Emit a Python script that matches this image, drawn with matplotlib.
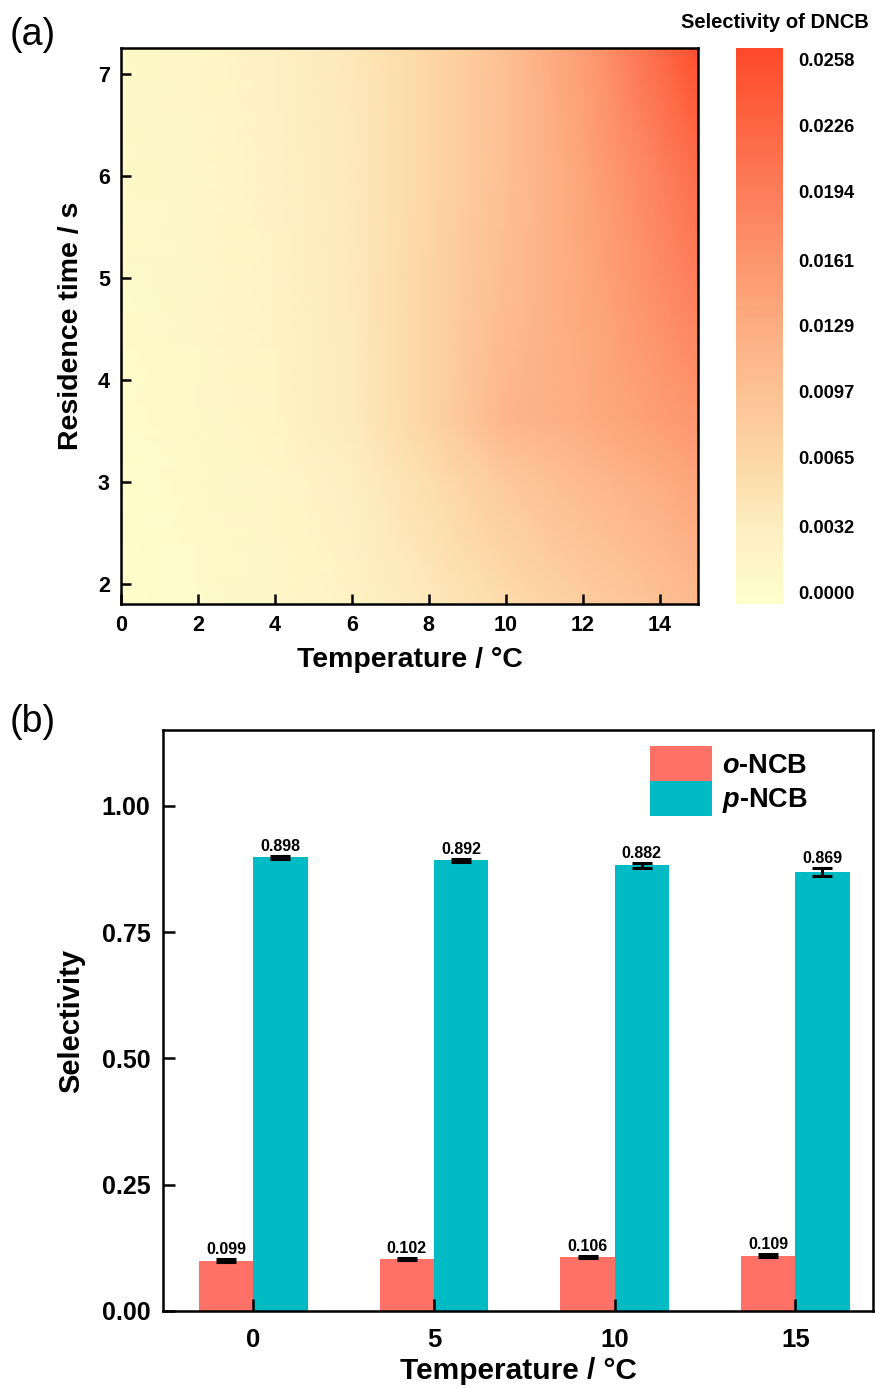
import numpy as np
import matplotlib
matplotlib.use("Agg")
import matplotlib.pyplot as plt
from matplotlib.colors import LinearSegmentedColormap, Normalize

plt.rcParams['font.family'] = ['Liberation Sans', 'DejaVu Sans']
plt.rcParams['font.weight'] = 'bold'
plt.rcParams['mathtext.fontset'] = 'custom'
plt.rcParams['mathtext.rm'] = 'Liberation Sans:bold'
plt.rcParams['mathtext.it'] = 'Liberation Sans:italic:bold'
plt.rcParams['mathtext.bf'] = 'Liberation Sans:bold'

# ---------------- data: panel (a) ----------------
temps_grid = [0, 2, 4, 6, 8, 10, 12, 14, 15]
times_grid = [1.8, 3.0, 3.6, 5.0, 6.0, 7.25]
dncb = [
    [0.0000, 0.0005, 0.0012, 0.0022, 0.0038, 0.0058, 0.0078, 0.0098, 0.0108],  # 1.8 s
    [0.0002, 0.0008, 0.0016, 0.0030, 0.0055, 0.0085, 0.0110, 0.0130, 0.0140],  # 3.0 s
    [0.0003, 0.0010, 0.0020, 0.0036, 0.0068, 0.0115, 0.0130, 0.0150, 0.0160],  # 3.6 s
    [0.0006, 0.0012, 0.0022, 0.0038, 0.0068, 0.0105, 0.0135, 0.0175, 0.0195],  # 5.0 s
    [0.0008, 0.0013, 0.0023, 0.0038, 0.0065, 0.0100, 0.0140, 0.0190, 0.0215],  # 6.0 s
    [0.0010, 0.0015, 0.0025, 0.0040, 0.0065, 0.0100, 0.0150, 0.0220, 0.0258],  # 7.25 s
]
cbar_ticks = [0.0000, 0.0032, 0.0065, 0.0097, 0.0129, 0.0161, 0.0194, 0.0226, 0.0258]
cbar_ticklabels = ['0.0000', '0.0032', '0.0065', '0.0097', '0.0129',
                   '0.0161', '0.0194', '0.0226', '0.0258']

# ---------------- data: panel (b) ----------------
bar_temps = ['0', '5', '10', '15']
o_ncb = [0.099, 0.102, 0.106, 0.109]
o_err = [0.003, 0.002, 0.002, 0.003]
p_ncb = [0.898, 0.892, 0.882, 0.869]
p_err = [0.003, 0.003, 0.005, 0.008]
o_labels = ['0.099', '0.102', '0.106', '0.109']
p_labels = ['0.898', '0.892', '0.882', '0.869']

W, H = 875, 1388
fig = plt.figure(figsize=(W / 100, H / 100), dpi=100)

def box(l, t, r, b):
    return [l / W, 1 - b / H, (r - l) / W, (b - t) / H]

cmap = LinearSegmentedColormap.from_list('dncb', [
    (0.00, '#FFFFCC'), (0.125, '#FEF0C2'), (0.25, '#FDD9A8'), (0.5, '#FDAD82'),
    (0.75, '#FD7C58'), (1.00, '#FF4A2A')])
norm = Normalize(vmin=-0.00058, vmax=0.02638)

# ---- panel (a) ----
ax1 = fig.add_axes(box(121, 48, 698, 604))
X, Y = np.meshgrid(temps_grid, times_grid)
ax1.pcolormesh(X, Y, np.array(dncb), cmap=cmap, norm=norm, shading='gouraud')
ax1.set_xlim(0, 15)
ax1.set_ylim(1.8, 7.25)
ax1.set_xticks(range(0, 15, 2))
ax1.set_yticks(range(2, 8))
ax1.tick_params(direction='in', length=7, width=1.8, labelsize=15.5, pad=8)
for sp in ax1.spines.values():
    sp.set_linewidth(1.8)
ax1.set_xlabel('Temperature / °C', fontsize=20.5, fontweight='bold', labelpad=8)
ax1.set_ylabel('Residence time / s', fontsize=20.5, fontweight='bold', labelpad=10)
fig.text(10 / W, 1 - 35 / H, '(a)', fontsize=27, fontweight='normal', va='center', ha='left')

cax = fig.add_axes(box(736, 48, 783, 604))
grad = np.linspace(norm.vmin, norm.vmax, 400).reshape(-1, 1)
cax.imshow(grad, aspect='auto', cmap=cmap, norm=norm, origin='lower',
           extent=[0, 1, norm.vmin, norm.vmax])
cax.set_ylim(norm.vmin, norm.vmax)
cax.set_xticks([])
cax.yaxis.tick_right()
cax.set_yticks(cbar_ticks)
cax.set_yticklabels(cbar_ticklabels)
cax.tick_params(axis='y', length=0, labelsize=13.2, pad=11)
for sp in cax.spines.values():
    sp.set_visible(False)
fig.text(869 / W, 1 - 22 / H, 'Selectivity of DNCB', fontsize=14.5, fontweight='bold',
         ha='right', va='center')

# ---- panel (b) ----
ax2 = fig.add_axes(box(163, 730, 873, 1311))
x = np.arange(len(bar_temps))
w = 0.3
ekw = dict(elinewidth=2.2, capthick=2.2)
ax2.bar(x - w / 2, o_ncb, w, color='#FF7067', label=r'$\mathit{o}$-NCB',
        yerr=o_err, capsize=7, error_kw=ekw)
ax2.bar(x + w / 2, p_ncb, w, color='#00BBC4', label=r'$\mathit{p}$-NCB',
        yerr=p_err, capsize=7, error_kw=ekw)
for xi, v, e, s in zip(x - w / 2, o_ncb, o_err, o_labels):
    ax2.text(xi, v + e + 0.004, s, ha='center', va='bottom', fontsize=11.5, fontweight='bold')
for xi, v, e, s in zip(x + w / 2, p_ncb, p_err, p_labels):
    ax2.text(xi, v + e + 0.004, s, ha='center', va='bottom', fontsize=11.5, fontweight='bold')
ax2.set_xlim(-0.5, 3.43)
ax2.set_ylim(0, 1.15)
ax2.set_xticks(x)
ax2.set_xticklabels(bar_temps)
ax2.set_yticks([0, 0.25, 0.5, 0.75, 1.0])
ax2.set_yticklabels(['0.00', '0.25', '0.50', '0.75', '1.00'])
ax2.tick_params(direction='in', length=8.5, width=1.8, labelsize=18, pad=9)
ax2.tick_params(axis='x', labelsize=18.5, pad=12)
for sp in ax2.spines.values():
    sp.set_linewidth(1.8)
ax2.set_xlabel('Temperature / °C', fontsize=21.5, fontweight='bold', labelpad=4)
ax2.set_ylabel('Selectivity', fontsize=21, fontweight='bold', labelpad=12)
ax2.legend(loc='upper left', bbox_to_anchor=(0.686, 0.972), frameon=False, fontsize=19.5,
           handlelength=2.3, handleheight=1.6, labelspacing=0.0, handletextpad=0.35,
           borderpad=0, borderaxespad=0)
fig.text(10 / W, 1 - 722 / H, '(b)', fontsize=27, fontweight='normal', va='center', ha='left')

fig.savefig('out.png', dpi=100)
